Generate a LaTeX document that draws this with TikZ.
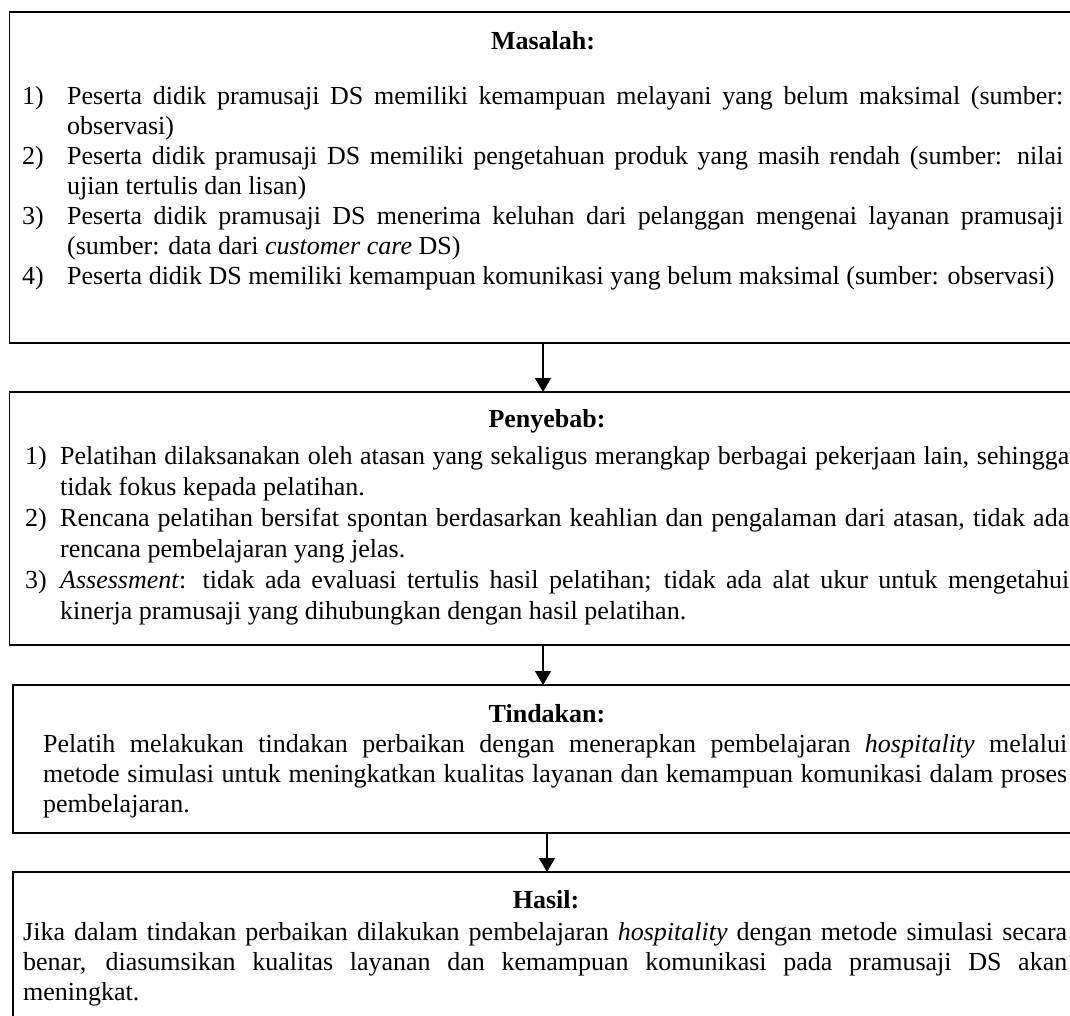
\documentclass[tikz,border=0pt]{standalone}
\usepackage{fontspec}
\setmainfont{Liberation Serif}
\usetikzlibrary{arrows.meta}
\tikzset{
  frame/.style={draw, line width=1.6pt, inner sep=0pt, outer sep=0pt, anchor=north west},
  flowarrow/.style={line width=1.3pt, -{Triangle[width=16pt,length=14pt]}},
  heading/.style={font=\fontsize{26}{30}\selectfont\bfseries, inner sep=0pt, anchor=base},
  body/.style={font=\fontsize{26}{30}\selectfont, inner sep=0pt, anchor=north west, align=justify},
}
\newcommand{\itm}[2]{\par\hangindent=#1\hangafter=1\noindent\makebox[#1][l]{#2}}
\begin{document}
\begin{tikzpicture}[x=1pt,y=-1pt]
\clip (0,0) rectangle (1070,1015);
\fill[white] (0,0) rectangle (1070,1015);
% boxes
\node[frame, minimum width=1067.4pt, minimum height=331pt] (b1) at (9.3,12) {};
\node[frame, minimum width=1067.4pt, minimum height=253pt] (b2) at (9.3,392) {};
\node[frame, minimum width=1068.6pt, minimum height=148pt] (b3) at (12.7,685) {};
\node[frame, minimum width=1068.6pt, minimum height=220pt] (b4) at (12.7,872) {};
% headings
\node[heading] (h1) at (543,49) {Masalah:};
\node[heading] (h2) at (547,427) {Penyebab:};
\node[heading] (h3) at (547,722) {Tindakan:};
\node[heading] (h4) at (546,908) {Hasil:};
% texts
\node[body, text width=1041pt] (p1) at (22,74) {\hyphenpenalty=10000\exhyphenpenalty=10000\parindent=0pt
\itm{45pt}{1)}\strut Peserta didik pramusaji DS memiliki kemampuan melayani yang belum maksimal (sumber:\linebreak observasi)
\itm{45pt}{2)}Peserta didik pramusaji DS memiliki pengetahuan produk yang masih rendah (sumber: nilai\linebreak ujian tertulis dan lisan)
\itm{45pt}{3)}Peserta didik pramusaji DS menerima keluhan dari pelanggan mengenai layanan pramusaji\linebreak (sumber: data dari \textit{customer care} DS)
\itm{45pt}{4)}Peserta didik DS memiliki kemampuan komunikasi yang belum maksimal (sumber: observasi)\par};
\node[body, text width=1044pt, font=\fontsize{26}{31}\selectfont] (p2) at (25,433) {\hyphenpenalty=10000\exhyphenpenalty=10000\parindent=0pt
\itm{35pt}{1)}\strut Pelatihan dilaksanakan oleh atasan yang sekaligus merangkap berbagai pekerjaan lain, sehingga\linebreak tidak fokus kepada pelatihan.
\itm{35pt}{2)}Rencana pelatihan bersifat spontan berdasarkan keahlian dan pengalaman dari atasan, tidak ada\linebreak rencana pembelajaran yang jelas.
\itm{35pt}{3)}\textit{Assessment}: tidak ada evaluasi tertulis hasil pelatihan; tidak ada alat ukur untuk mengetahui\linebreak kinerja pramusaji yang dihubungkan dengan hasil pelatihan.\par};
\node[body, text width=1024pt] (p3) at (43,731) {\hyphenpenalty=10000\parindent=0pt\noindent\strut Pelatih melakukan tindakan perbaikan dengan menerapkan pembelajaran \textit{hospitality} melalui\linebreak metode simulasi untuk meningkatkan kualitas layanan dan kemampuan komunikasi dalam proses\linebreak pembelajaran.\par};
\node[body, text width=1044pt] (p4) at (23,919) {\hyphenpenalty=10000\parindent=0pt\noindent\strut Jika dalam tindakan perbaikan dilakukan pembelajaran \textit{hospitality} dengan metode simulasi secara\linebreak benar, diasumsikan kualitas layanan dan kemampuan komunikasi pada pramusaji DS akan\linebreak meningkat.\par};
% connectors
\draw[flowarrow] (b1.south) -- (b2.north);
\draw[flowarrow] (b2.south) -- (b2.south |- b3.north);
\draw[flowarrow] (b3.south) -- (b4.north);
\end{tikzpicture}
\end{document}
